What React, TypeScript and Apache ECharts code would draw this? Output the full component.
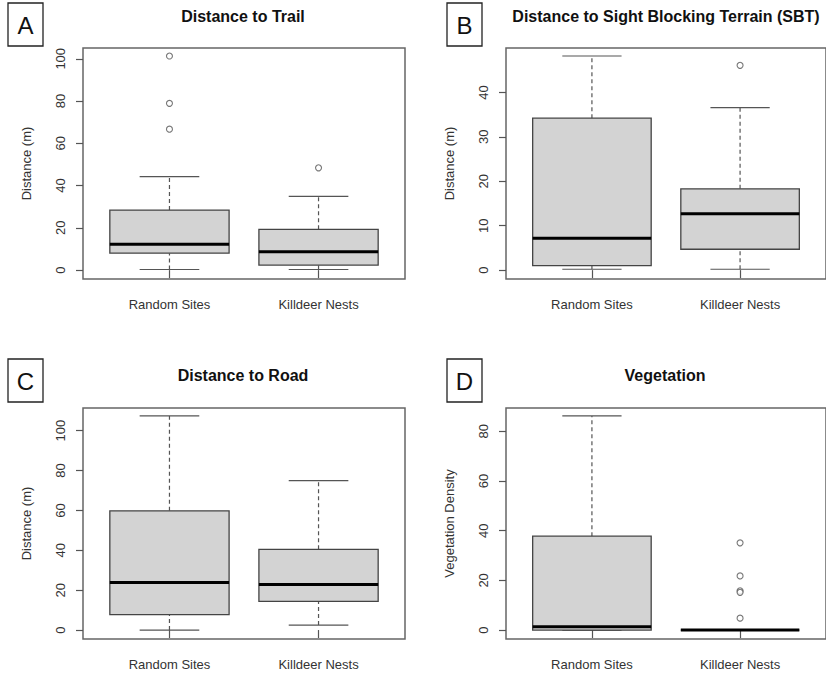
import React, { useEffect, useRef } from "react";
import * as echarts from "echarts";

const categories = ["Random Sites", "Killdeer Nests"];

// [min, Q1, median, Q3, max]
const trailBoxes = [
  [0.3, 8.0, 12.2, 28.4, 44.2],
  [0.3, 2.4, 8.7, 19.3, 34.9],
];
const trailOutliers = [
  [1, 101.3],
  [1, 78.9],
  [1, 66.7],
  [2, 48.4],
];
const sbtBoxes = [
  [0.2, 1.0, 7.2, 34.2, 48.2],
  [0.2, 4.7, 12.7, 18.3, 36.6],
];
const sbtOutliers = [[2, 46.1]];
const roadBoxes = [
  [0, 7.7, 23.8, 59.8, 107.4],
  [2.5, 14.4, 22.9, 40.5, 75.0],
];
const roadOutliers: number[][] = [];
const vegBoxes = [
  [0, 0, 1.3, 37.8, 86.2],
  [0, 0, 0, 0, 0],
];
const vegOutliers = [
  [2, 35.1],
  [2, 21.8],
  [2, 15.8],
  [2, 15.2],
  [2, 4.8],
];

const trailTicks = [0, 20, 40, 60, 80, 100];
const sbtTicks = [0, 10, 20, 30, 40];
const roadTicks = [0, 20, 40, 60, 80, 100];
const vegTicks = [0, 20, 40, 60, 80];

const titles = [
  "Distance to Trail",
  "Distance to Sight Blocking Terrain (SBT)",
  "Distance to Road",
  "Vegetation",
];
const panelLetters = ["A", "B", "C", "D"];
const yNames = ["Distance (m)", "Distance (m)", "Distance (m)", "Vegetation Density"];

const FONT = "'Liberation Sans', Arial, sans-serif";

export default function App() {
  const ref = useRef<HTMLDivElement>(null);

  useEffect(() => {
    if (!ref.current) return;
    const chart = echarts.init(ref.current, null, { renderer: "svg" });

    const panels = [
      { boxes: trailBoxes, outliers: trailOutliers, ticks: trailTicks, min: -4.2, max: 105.1, left: 83, top: 48 },
      { boxes: sbtBoxes, outliers: sbtOutliers, ticks: sbtTicks, min: -2.0, max: 50.0, left: 506, top: 48 },
      { boxes: roadBoxes, outliers: roadOutliers, ticks: roadTicks, min: -4.5, max: 111.4, left: 83, top: 408 },
      { boxes: vegBoxes, outliers: vegOutliers, ticks: vegTicks, min: -3.6, max: 89.4, left: 506, top: 408 },
    ];
    const gridW = 322;
    const gridH = 231;

    const grids = panels.map((p) => ({
      left: p.left,
      top: p.top,
      width: gridW,
      height: gridH,
      show: true,
      borderColor: "#666",
      borderWidth: 1.5,
      backgroundColor: "transparent",
    }));

    const xAxes = panels.map((p, i) => ({
      type: "value",
      gridIndex: i,
      min: 0.42,
      max: 2.58,
      splitLine: { show: false },
      axisLine: { show: false },
      axisTick: { show: true, customValues: [1, 2], length: 8, lineStyle: { color: "#555", width: 1.2 } },
      axisLabel: {
        customValues: [1, 2],
        formatter: (v: number) => categories[Math.round(v) - 1] ?? "",
        fontSize: 13,
        fontFamily: FONT,
        color: "#333",
        margin: 19,
      },
    }));

    const yAxes = panels.map((p, i) => ({
      type: "value",
      gridIndex: i,
      min: p.min,
      max: p.max,
      name: yNames[i],
      nameLocation: "middle",
      nameRotate: 90,
      nameGap: 50,
      nameTextStyle: { fontSize: 13, fontFamily: FONT, color: "#333" },
      splitLine: { show: false },
      axisLine: { show: false },
      axisTick: { show: true, customValues: p.ticks, length: 7, lineStyle: { color: "#555", width: 1.2 } },
      axisLabel: {
        customValues: p.ticks,
        rotate: 90,
        fontSize: 13,
        fontFamily: FONT,
        color: "#333",
        margin: 16,
      },
    }));

    const boxSeries = panels.map((p, i) => ({
      type: "custom",
      xAxisIndex: i,
      yAxisIndex: i,
      data: p.boxes.map((b, k) => [k + 1, ...b]),
      renderItem: (params: any, api: any) => {
        const x = api.value(0);
        const mn = api.value(1);
        const q1 = api.value(2);
        const md = api.value(3);
        const q3 = api.value(4);
        const mx = api.value(5);
        const pL = api.coord([x - 0.4, q1]);
        const pR = api.coord([x + 0.4, q3]);
        const cL = api.coord([x - 0.2, mn])[0];
        const cR = api.coord([x + 0.2, mn])[0];
        const cx = api.coord([x, mn])[0];
        const yMin = api.coord([x, mn])[1];
        const yQ1 = api.coord([x, q1])[1];
        const yMd = api.coord([x, md])[1];
        const yQ3 = api.coord([x, q3])[1];
        const yMax = api.coord([x, mx])[1];
        const whisk = { stroke: "#555", lineWidth: 1.2, lineDash: [4, 3] };
        const cap = { stroke: "#555", lineWidth: 1.2 };
        return {
          type: "group",
          children: [
            { type: "line", shape: { x1: cx, y1: yQ3, x2: cx, y2: yMax }, style: whisk },
            { type: "line", shape: { x1: cx, y1: yMin, x2: cx, y2: yQ1 }, style: whisk },
            { type: "line", shape: { x1: cL, y1: yMax, x2: cR, y2: yMax }, style: cap },
            { type: "line", shape: { x1: cL, y1: yMin, x2: cR, y2: yMin }, style: cap },
            {
              type: "rect",
              shape: { x: pL[0], y: yQ3, width: pR[0] - pL[0], height: yQ1 - yQ3 },
              style: { fill: "#d3d3d3", stroke: "#444", lineWidth: 1.3 },
            },
            {
              type: "line",
              shape: { x1: pL[0], y1: yMd, x2: pR[0], y2: yMd },
              style: { stroke: "#000", lineWidth: 3 },
            },
          ],
        };
      },
    }));

    const outlierSeries = panels.map((p, i) => ({
      type: "scatter",
      xAxisIndex: i,
      yAxisIndex: i,
      data: p.outliers,
      symbol: "circle",
      symbolSize: 6,
      itemStyle: { color: "#fff", borderColor: "#555", borderWidth: 1.1 },
    }));

    const titlePos = [
      [243, 16],
      [666, 16],
      [243, 375],
      [665, 375],
    ];
    const letterPos = [
      [8, 3],
      [447, 3],
      [8, 359],
      [447, 359],
    ];

    const graphics: any[] = [];
    titles.forEach((t, i) => {
      graphics.push({
        type: "text",
        x: titlePos[i][0],
        y: titlePos[i][1],
        style: {
          text: t,
          font: `bold 16px ${FONT}`,
          fill: "#111",
          textAlign: "center",
          textVerticalAlign: "middle",
        },
      });
    });
    panelLetters.forEach((l, i) => {
      graphics.push({
        type: "rect",
        shape: { x: letterPos[i][0], y: letterPos[i][1], width: 35, height: 43 },
        style: { fill: "#fff", stroke: "#222", lineWidth: 1.3 },
      });
      graphics.push({
        type: "text",
        x: letterPos[i][0] + 17.5,
        y: letterPos[i][1] + 22,
        style: {
          text: l,
          font: `24px ${FONT}`,
          fill: "#111",
          textAlign: "center",
          textVerticalAlign: "middle",
        },
      });
    });

    chart.setOption({
      animation: false,
      backgroundColor: "#fff",
      grid: grids,
      xAxis: xAxes,
      yAxis: yAxes,
      series: [...boxSeries, ...outlierSeries],
      graphic: graphics,
    });

    return () => chart.dispose();
  }, []);

  return (
    <div
      ref={ref}
      style={{ position: "fixed", left: 0, top: 0, width: 826, height: 673 }}
    />
  );
}
